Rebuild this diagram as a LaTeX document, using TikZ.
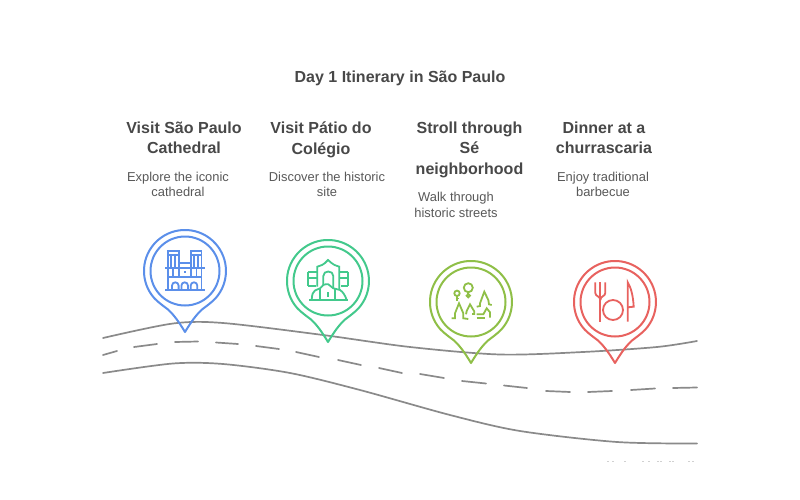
\documentclass[tikz,border=0pt]{standalone}
\usepackage{fontspec}
\setmainfont{Liberation Sans}
\definecolor{ink}{HTML}{484848}
\definecolor{sub}{HTML}{595959}
\definecolor{road}{HTML}{8A8A8A}
\definecolor{cblue}{HTML}{5B8FEA}
\definecolor{cgreen}{HTML}{43C98C}
\definecolor{clime}{HTML}{8FBF47}
\definecolor{cred}{HTML}{E8625F}
\tikzset{
  x=1pt,y=-1pt,
  ttl/.style={font=\bfseries\fontsize{16}{20.5}\selectfont,text=ink,align=center,inner sep=0pt},
  head/.style={font=\bfseries\fontsize{16}{20.5}\selectfont,text=ink,align=center,inner sep=0pt},
  desc/.style={font=\fontsize{12.9}{15.5}\selectfont,text=sub,align=center,inner sep=0pt},
  roadline/.style={draw=road,line width=1.7pt,line cap=round},
  icon/.style={line width=1.8pt,line join=miter},
  pin/.pic={
    \draw[line width=2pt,line join=round] (0,61) .. controls (-6,51) and (-11,44) .. (-17,38.5)
      .. controls (-23,34) and (-27,31) .. (-30.5,27.4) arc (138:402:41)
      .. controls (27,31) and (23,34) .. (17,38.5) .. controls (11,44) and (6,51) .. (0,61) -- cycle;
    \draw[line width=2pt] (0,0) circle (34.5);
  }
}
\begin{document}
\begin{tikzpicture}
\useasboundingbox (0,0) rectangle (800,500);
\fill[white] (0,0) rectangle (800,500);
% road
\draw[roadline] plot[smooth,tension=0.5] coordinates {(103,338) (173,323.5) (223,323) (323,335) (410,347) (500,354.5) (583,352) (657,347) (697,341)};
\draw[roadline] plot[smooth,tension=0.5] coordinates {(103,373) (173,363.5) (223,364) (290,373) (360,390) (450,415) (520,431) (617,442) (697,443.5)};
\draw[roadline] (103,355)--(117,351);
\draw[roadline] (134,347)--(157,344);
\draw[roadline] (175,342)--(198,341.5);
\draw[roadline] (216,342.5)--(238,344);
\draw[roadline] (256,346)--(279,349);
\draw[roadline] (296,352)--(319,357);
\draw[roadline] (338,360)--(361,365);
\draw[roadline] (379,368)--(402,373);
\draw[roadline] (420,374)--(444,378);
\draw[roadline] (462,381)--(486,383.5);
\draw[roadline] (504,385.5)--(527,388);
\draw[roadline] (546,391)--(570,392);
\draw[roadline] (588,392)--(612,391);
\draw[roadline] (631,390)--(655,388.5);
\draw[roadline] (673,388)--(697,387.5);
% texts
\node[ttl] (title) at (400,78) {Day 1 Itinerary in São Paulo};
\node[head] (h1) at (184,138) {Visit São Paulo\\Cathedral};
\node[head] (h2) at (321,140) {Visit Pátio do\\Colégio};
\node[head] (h3) at (469.5,149.5) {Stroll through\\Sé\\neighborhood};
\node[head] (h4) at (604,138) {Dinner at a\\churrascaria};
\node[desc] (d1) at (178,184.5) {Explore the iconic\\cathedral};
\node[desc] (d2) at (327,184.5) {Discover the historic\\site};
\node[desc] (d3) at (456,205) {Walk through\\historic streets};
\node[desc] (d4) at (603,184.5) {Enjoy traditional\\barbecue};
% pins
\pic[draw=cblue,fill=white] at (185,271) {pin};
\pic[draw=cgreen,fill=white] at (328,281) {pin};
\pic[draw=clime,fill=white] at (471,302) {pin};
\pic[draw=cred,fill=white] at (615,302) {pin};
% icon 1
\begin{scope}[shift={(185,271)},draw=cblue,icon]
\draw (-20,-2.7)--(19.5,-2.7) (-20,19)--(19.5,19) (-17,5.7)--(16.5,5.7);
\draw (-17,19)--(-17,-20)--(-6.3,-20)--(-6.3,5.7);
\draw (16.5,19)--(16.5,-20)--(5.7,-20)--(5.7,5.7);
\draw (-17,-16)--(-6.3,-16) (16.5,-16)--(5.7,-16) (-6.3,-8)--(5.7,-8);
\draw (-13.7,-16)--(-13.7,-2.7) (-9.7,-16)--(-9.7,-2.7) (13,-16)--(13,-2.7) (9,-16)--(9,-2.7);
\draw (-12,-2.7)--(-12,5.7) (11.5,-2.7)--(11.5,5.7);
\fill[cblue] (-1.3,2.3) rectangle (0.7,0.3);
\foreach \c in {-9.7,-0.3,9}{
  \draw (\c-3.3,19)--(\c-3.3,14.6) arc (180:360:3.3)--(\c+3.3,19);
}
\end{scope}
% icon 2
\begin{scope}[shift={(328,281)},draw=cgreen,icon]
\draw (-18.7,19)--(19.7,19);
\draw (-16.3,19) .. controls (-16,13) and (-15,10.7) .. (-13,9.5)--(-8,7.3)--(-4.7,4) .. controls (-3,3) and (-1,3) .. (0.3,3.3)--(5.3,7.3)--(12,9) .. controls (15,11) and (17,14) .. (18.7,19);
\draw (-8,19)--(-8,7.3) (7,19)--(7,8);
\draw (-10.7,5.7)--(-10.7,-14.3)--(-6,-16)--(-3,-18)--(0,-21)--(3.5,-18)--(6.5,-16)--(11.3,-14.3)--(11.3,8);
\draw (-4.7,4)--(-4.7,-5) .. controls (-4.7,-11) and (5.3,-11) .. (5.3,-5)--(5.3,7.3);
\draw (-19.7,-9.3)--(-10.7,-9.3) (-19.7,-2.7)--(-10.7,-2.7) (-19.7,4.7)--(-12,4.7) (-19.7,-9.3)--(-19.7,4.7);
\draw (11.3,-9.3)--(20.3,-9.3) (11.3,-2.7)--(20.3,-2.7) (13,4.7)--(20.3,4.7) (20.3,-9.3)--(20.3,4.7);
\fill[cgreen] (-0.6,11) rectangle (1.2,15.5);
\end{scope}
% icon 3
\begin{scope}[shift={(471,302)},draw=clime,icon]
\draw (-2.7,-14.3) circle (4.5);
\draw (-2.7,-6.3) circle (1.7);
\draw (-2.7,-9.8)--(-2.7,-8);
\draw (-14,-8.7) circle (2.7);
\draw (-14,-6)--(-14,-1) (-15.5,-3.5)--(-12.5,-3.5);
\draw (-19.3,16.3)--(-16,16.3)--(-16,11.3)--(-12,1.3)--(-7.7,11.3)--(-7.7,16.3)--(-2.7,17);
\draw (-5,12.3)--(-4.3,9)--(-1,2.3)--(3.3,9.5)--(3.3,12)--(1,12);
\draw (5.7,4.7)--(9,4)--(9,1.3)--(13.3,-10.3)--(17.3,-2)--(18,2.3)--(20.7,3);
\draw (5.7,12.3)--(12.3,12.3)--(15.7,6.3)--(19,10.3)--(19,15.7);
\draw (5.7,16.3)--(14,16.3);
\end{scope}
% icon 4
\begin{scope}[shift={(615,302)},draw=cred,icon]
\draw (-19.7,-19.7)--(-19.7,-9) .. controls (-19.7,-5.5) and (-14.7,-6) .. (-14.7,-2);
\draw (-9.7,-19.7)--(-9.7,-9) .. controls (-9.7,-5.5) and (-14.7,-6) .. (-14.7,-2);
\draw (-14.7,-19.7)--(-14.7,19.7);
\draw (-2,8) circle (10);
\draw (12.7,19.7)--(12.7,-19.7) .. controls (15.5,-15) and (18,-8) .. (18.7,4.7)--(12.7,5.3);
\end{scope}
% faint clipped marks
\foreach \a in {607,612,624,642,648,657,660,669,672,688,692}{
  \fill[black!18] (\a,460.5) rectangle (\a+1.5,462);
}
\end{tikzpicture}
\end{document}
